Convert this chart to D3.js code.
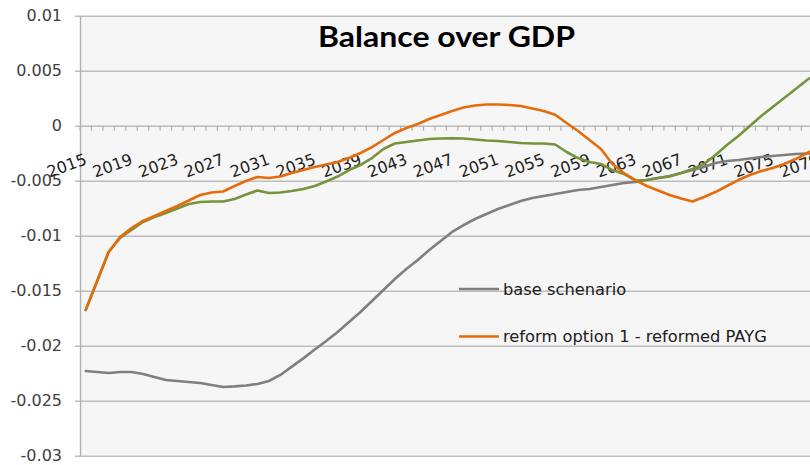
<!DOCTYPE html>
<html>
<head>
<meta charset="utf-8">
<script src="https://cdn.jsdelivr.net/npm/d3@7"></script>
<style>
  html, body { margin: 0; padding: 0; background: #ffffff; }
  svg { display: block; }
</style>
</head>
<body>
<svg id="chart" width="810" height="465"></svg>
<script>
// ---- data ----
const years = d3.range(2015, 2080);
const xTickLabels = [2015, 2019, 2023, 2027, 2031, 2035, 2039, 2043, 2047, 2051, 2055, 2059, 2063, 2067, 2071, 2075, 2079];
const yTickValues = [-0.03, -0.025, -0.02, -0.015, -0.01, -0.005, 0, 0.005, 0.01];
const yTickLabels = ["-0.03", "-0.025", "-0.02", "-0.015", "-0.01", "-0.005", "0", "0.005", "0.01"];
const title = "Balance over GDP";
const seriesNames = ["base schenario", "reform option 1 - reformed PAYG", "reform option 2"];

const baseScenario = [
  -0.02230, -0.02239, -0.02248, -0.02239, -0.02239, -0.02257, -0.02284, -0.02312, -0.02321, -0.02330,
  -0.02339, -0.02357, -0.02375, -0.02370, -0.02362, -0.02348, -0.02321, -0.02266, -0.02190, -0.02115,
  -0.02035, -0.01957, -0.01875, -0.01785, -0.01694, -0.01594, -0.01494, -0.01394, -0.01303, -0.01221,
  -0.01130, -0.01048, -0.00966, -0.00903, -0.00848, -0.00803, -0.00757, -0.00721, -0.00685, -0.00657,
  -0.00639, -0.00621, -0.00603, -0.00585, -0.00575, -0.00557, -0.00539, -0.00521, -0.00512, -0.00494,
  -0.00475, -0.00457, -0.00430, -0.00403, -0.00375, -0.00339, -0.00321, -0.00312, -0.00298, -0.00285,
  -0.00275, -0.00266, -0.00257, -0.00253, -0.00248
];
const reformPAYG = [
  -0.01675, -0.01412, -0.01148, -0.01012, -0.00930, -0.00866, -0.00821, -0.00775, -0.00730, -0.00680,
  -0.00630, -0.00607, -0.00598, -0.00548, -0.00503, -0.00466, -0.00475, -0.00462, -0.00430, -0.00403,
  -0.00375, -0.00353, -0.00330, -0.00294, -0.00248, -0.00194, -0.00130, -0.00066, -0.00021, 0.00015,
  0.00061, 0.00097, 0.00134, 0.00165, 0.00184, 0.00193, 0.00193, 0.00188, 0.00179, 0.00156,
  0.00134, 0.00100, 0.00025, -0.00048, -0.00130, -0.00212, -0.00348, -0.00430, -0.00494, -0.00548,
  -0.00589, -0.00630, -0.00662, -0.00689, -0.00648, -0.00603, -0.00548, -0.00494, -0.00448, -0.00412,
  -0.00385, -0.00348, -0.00303, -0.00248, -0.00203
];
const reformOption2 = [
  -0.01675, -0.01412, -0.01148, -0.01021, -0.00948, -0.00875, -0.00830, -0.00794, -0.00753, -0.00712,
  -0.00694, -0.00689, -0.00689, -0.00666, -0.00625, -0.00589, -0.00612, -0.00607, -0.00594, -0.00575,
  -0.00548, -0.00507, -0.00462, -0.00403, -0.00357, -0.00294, -0.00212, -0.00162, -0.00148, -0.00135,
  -0.00121, -0.00116, -0.00115, -0.00116, -0.00125, -0.00135, -0.00139, -0.00148, -0.00157, -0.00162,
  -0.00162, -0.00171, -0.00239, -0.00294, -0.00330, -0.00348, -0.00403, -0.00439, -0.00498, -0.00494,
  -0.00475, -0.00462, -0.00430, -0.00394, -0.00348, -0.00266, -0.00175, -0.00094, -0.00003, 0.00088,
  0.00170, 0.00252, 0.00334, 0.00415, 0.00488
];

// ---- layout ----
const svg = d3.select("#chart");
const W = 810, H = 465;
const plotLeft = 80, plotTop = 15.7, plotBottom = 455.7;
const step = 11.45;

const x = d3.scaleBand().domain(years).range([plotLeft, plotLeft + years.length * step]).paddingInner(0).paddingOuter(0);
const y = d3.scaleLinear().domain([-0.03, 0.01]).range([plotBottom, plotTop]);
const cx = yr => x(yr) + x.bandwidth() / 2;

svg.append("rect").attr("x", 0).attr("y", 0).attr("width", W).attr("height", H).attr("fill", "#ffffff");
svg.append("rect").attr("x", plotLeft).attr("y", plotTop).attr("width", W - plotLeft).attr("height", plotBottom - plotTop).attr("fill", "#f6f6f6");

// gridlines (with small outer ticks left of the axis)
const gy = svg.append("g").attr("transform", `translate(${W},0)`);
gy.call(d3.axisLeft(y).tickValues(yTickValues).tickSize(W - plotLeft + 5).tickFormat(""));
gy.select(".domain").remove();
gy.selectAll(".tick line").attr("stroke", "#bdbdbd").attr("stroke-width", 1.4);

// y axis line + labels
const gyl = svg.append("g").attr("transform", `translate(${plotLeft},0)`);
gyl.call(d3.axisLeft(y).tickValues(yTickValues).tickSize(0).tickPadding(18).tickFormat((d, i) => yTickLabels[i]));
gyl.select(".domain").attr("stroke", "#b0b0b0").attr("stroke-width", 1.4);
gyl.selectAll(".tick text").attr("font-family", "DejaVu Sans, sans-serif").attr("font-size", 16).attr("fill", "#404040");

// x axis ticks at y=0 (category boundaries)
const y0 = y(0);
svg.append("g").selectAll("line").data(years).join("line")
  .attr("x1", d => x(d)).attr("x2", d => x(d))
  .attr("y1", y0).attr("y2", y0 + 5)
  .attr("stroke", "#b0b0b0").attr("stroke-width", 1.2);

// x labels (rotated)
svg.append("g").selectAll("text").data(xTickLabels).join("text")
  .attr("transform", d => `translate(${cx(d) + 2},${y0 + 38}) rotate(-20)`)
  .attr("text-anchor", "end")
  .attr("font-family", "DejaVu Sans, sans-serif").attr("font-size", 16).attr("fill", "#202020")
  .text(d => d);

// lines
const line = d3.line().x((d, i) => cx(years[i])).y(d => y(d));
const series = [
  { values: baseScenario, color: "#7f7f7f" },
  { values: reformOption2, color: "#77933c" },
  { values: reformPAYG, color: "#e46c0a" }
];
svg.append("g").selectAll("path").data(series).join("path")
  .attr("d", d => line(d.values))
  .attr("fill", "none").attr("stroke", d => d.color).attr("stroke-width", 2.6)
  .attr("stroke-linejoin", "round").attr("stroke-linecap", "round");

// title
svg.append("text").attr("x", 446.5).attr("y", 47).attr("text-anchor", "middle")
  .attr("font-family", "Lato, sans-serif").attr("font-weight", "bold").attr("font-size", 29).attr("fill", "#000")
  .attr("textLength", 257).attr("lengthAdjust", "spacingAndGlyphs")
  .text(title);

// legend (two visible entries)
const legend = [
  { name: seriesNames[0], color: "#7f7f7f", y: 289 },
  { name: seriesNames[1], color: "#e46c0a", y: 336.5 }
];
const lg = svg.append("g");
lg.selectAll("line").data(legend).join("line")
  .attr("x1", 459).attr("x2", 499).attr("y1", d => d.y).attr("y2", d => d.y)
  .attr("stroke", d => d.color).attr("stroke-width", 2.6);
lg.selectAll("text").data(legend).join("text")
  .attr("x", 503).attr("y", d => d.y).attr("dy", "0.35em")
  .attr("font-family", "DejaVu Sans, sans-serif").attr("font-size", 16.3).attr("fill", "#202020")
  .text(d => d.name);
</script>
</body>
</html>
